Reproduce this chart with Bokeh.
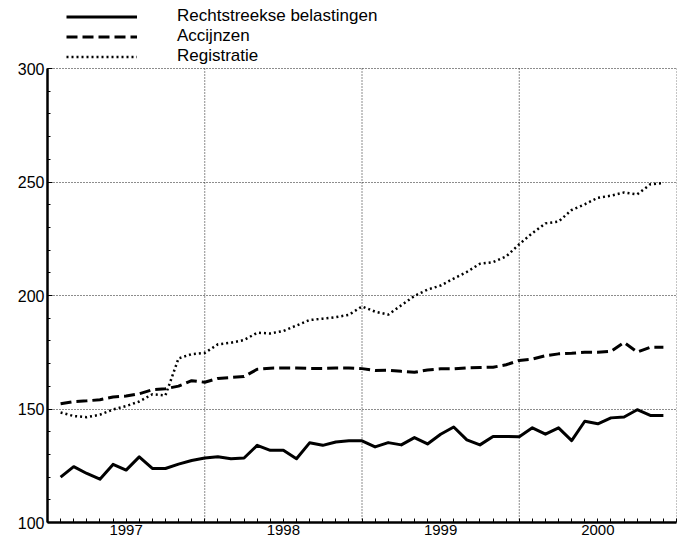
from bokeh.plotting import figure
from bokeh.models import FixedTicker, Legend, LegendItem, Range1d, PrintfTickFormatter
from bokeh.embed import file_html
from bokeh.resources import INLINE

# ---- data (monthly index values, Feb 1997 .. Dec 2000) ----
start_year = 1997
start_month = 2
years = [1997, 1998, 1999, 2000]
y_ticks = [100, 150, 200, 250, 300]

rechtstreekse = [
    120.0, 124.6, 121.6, 119.1, 125.6, 123.1, 128.9, 123.8, 123.8, 125.7, 127.3,
    128.4, 129.0, 128.1, 128.4, 134.0, 131.8, 131.8, 128.1, 135.1, 134.0, 135.5, 136.0,
    136.0, 133.3, 135.2, 134.2, 137.4, 134.6, 138.9, 142.1, 136.4, 134.2, 137.9, 137.9,
    137.8, 141.7, 138.9, 141.7, 136.1, 144.6, 143.5, 146.1, 146.5, 149.7, 147.2, 147.2,
]
accijnzen = [
    152.3, 153.3, 153.6, 154.1, 155.3, 155.7, 156.7, 158.5, 158.9, 160.1, 162.5,
    161.8, 163.5, 163.9, 164.3, 167.5, 168.0, 168.1, 168.1, 167.9, 167.9, 168.1, 168.1,
    167.8, 167.0, 167.1, 166.6, 166.2, 167.2, 167.7, 167.7, 168.1, 168.3, 168.4, 169.5,
    171.4, 172.0, 173.5, 174.3, 174.6, 175.0, 175.0, 175.4, 179.3, 175.1, 177.2, 177.2,
]
registratie = [
    148.5, 146.9, 146.4, 147.5, 149.8, 151.3, 153.3, 156.5, 156.0, 172.3, 174.2,
    174.7, 178.5, 179.2, 180.4, 183.6, 183.3, 184.4, 186.8, 189.2, 189.8, 190.5, 191.5,
    195.2, 192.9, 191.6, 195.7, 199.8, 202.6, 204.4, 207.5, 210.4, 214.0, 214.7, 217.2,
    222.6, 227.5, 231.8, 232.6, 237.7, 240.2, 243.1, 244.0, 245.4, 244.6, 249.0, 249.6,
]

n = len(rechtstreekse)
x = [start_year + (start_month - 1 + i) / 12 for i in range(n)]
year_mid = [y + 0.5 for y in years]
year_bounds = [y + 1 for y in years]
month_ticks = [years[0] + k / 12 for k in range(12 * len(years) + 1)]
y_lo, y_hi = y_ticks[0], y_ticks[-1]

FONT = "Liberation Sans"
GRID = "#1a1a1a"

# frame is extended above 300 so the legend (drawn inside the frame) sits above the chart area
p = figure(width=682, height=539, output_backend="svg", toolbar_location=None,
           x_range=Range1d(years[0], years[-1] + 1), y_range=Range1d(y_lo, 330),
           min_border_left=47, min_border_right=6, min_border_top=0, min_border_bottom=17)
p.outline_line_color = None
p.background_fill_color = "white"
p.border_fill_color = "white"

# vertical year gridlines, limited to the 100..300 chart area
p.xgrid.visible = False
p.segment(x0=year_bounds, y0=[y_lo] * len(year_bounds), x1=year_bounds, y1=[y_hi] * len(year_bounds),
          line_color=GRID, line_width=1, line_dash="1 2")

# horizontal gridlines
p.ygrid.ticker = FixedTicker(ticks=y_ticks[1:])
p.ygrid.grid_line_color = GRID
p.ygrid.grid_line_width = 1
p.ygrid.grid_line_dash = "1 2"

r1 = p.line(x, rechtstreekse, line_color="black", line_width=3, line_join="round")
r2 = p.line(x, accijnzen, line_color="black", line_width=3, line_dash="11 5")
r3 = p.line(x, registratie, line_color="black", line_width=2.5, line_dash="2 3")

# y axis
ya = p.yaxis[0]
ya.bounds = (y_lo, y_hi)
ya.ticker = FixedTicker(ticks=y_ticks, minor_ticks=list(range(y_lo, y_hi + 1, 10)))
ya.axis_line_width = 2.5
ya.major_tick_in = 5
ya.major_tick_out = 0
ya.minor_tick_in = 3
ya.minor_tick_out = 0
ya.major_label_standoff = 3
ya.major_label_text_font = FONT
ya.major_label_text_font_size = "16px"
ya.major_label_text_color = "black"

# x axis: labels centred in each year, month ticks inside
xa = p.xaxis[0]
xa.ticker = FixedTicker(ticks=year_mid, minor_ticks=month_ticks)
xa.formatter = PrintfTickFormatter(format="%d")
xa.axis_line_width = 2.5
xa.major_tick_in = 0
xa.major_tick_out = 0
xa.minor_tick_in = 4
xa.minor_tick_out = 0
xa.major_label_standoff = 2
xa.major_label_text_font = FONT
xa.major_label_text_font_size = "15px"
xa.major_label_text_color = "black"

legend = Legend(items=[
    LegendItem(label="Rechtstreekse belastingen", renderers=[r1]),
    LegendItem(label="Accijnzen", renderers=[r2]),
    LegendItem(label="Registratie", renderers=[r3]),
], location=(19, 456), orientation="vertical")
legend.glyph_width = 71
legend.glyph_height = 19
legend.label_height = 19
legend.label_standoff = 40
legend.spacing = 0
legend.padding = 0
legend.margin = 0
legend.border_line_color = None
legend.background_fill_alpha = 0
legend.label_text_font = FONT
legend.label_text_font_size = "17px"
legend.label_text_color = "black"
p.add_layout(legend, "center")

open("out.html", "w").write(file_html(p, INLINE))
